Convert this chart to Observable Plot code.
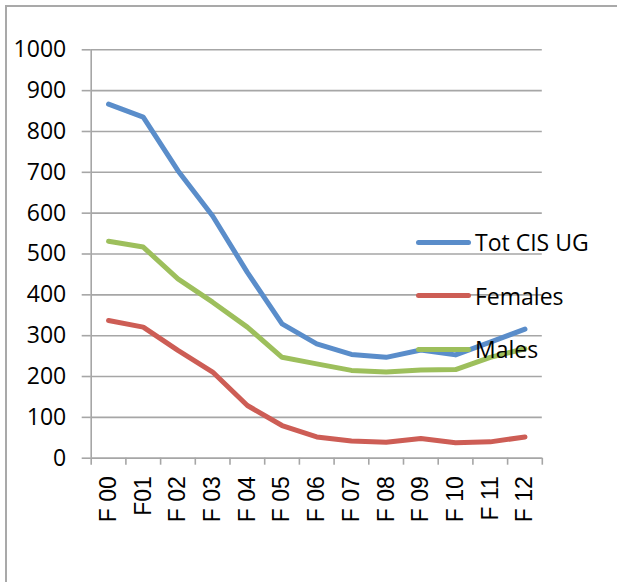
<!DOCTYPE html>
<html>
<head>
<meta charset="utf-8">
<script src="https://cdn.jsdelivr.net/npm/d3@7"></script>
<script src="https://cdn.jsdelivr.net/npm/@observablehq/plot@0.6"></script>
<style>
  html, body { margin: 0; padding: 0; background: #fff; }
  #wrap { position: relative; width: 617px; height: 582px; overflow: hidden; background: #fff; }
  #frame { position: absolute; left: 5px; top: 5px; right: -10px; bottom: -10px;
           border-left: 2px solid #a9a9a9; border-top: 2px solid #a9a9a9; }
  #chart { position: absolute; left: 0; top: 0; }
  #legend { position: absolute; left: 0; top: 0; }
  .entry { position: absolute; left: 416px; height: 30px; display: flex; align-items: center; }
  .swatch { width: 55px; height: 5px; border-radius: 3px; }
  .lab { margin-left: 4px; font-family: "Open Sans", sans-serif; font-size: 23px; line-height: 30px; color: #000; white-space: nowrap; }
</style>
</head>
<body>
<div id="wrap">
  <div id="frame"></div>
  <div id="chart"></div>
  <div id="legend"></div>
</div>
<script>
// ---- data ----
const categories = ["F 00", "F01", "F 02", "F 03", "F 04", "F 05", "F 06", "F 07", "F 08", "F 09", "F 10", "F 11", "F 12"];
const totCisUg = [867, 835, 704, 593, 455, 329, 280, 254, 247, 265, 253, 284, 316];
const females  = [337, 321, 264, 211, 129, 80, 52, 42, 39, 48, 38, 40, 52];
const males    = [531, 517, 439, 382, 321, 247, 231, 215, 211, 216, 217, 247, 268];
const seriesNames = ["Tot CIS UG", "Females", "Males"];
const seriesColors = ["#5a8dca", "#cd5d55", "#9dbf5c"];
const yTicks = [0, 100, 200, 300, 400, 500, 600, 700, 800, 900, 1000];

const seriesValues = [totCisUg, females, males];
const rows = seriesValues.flatMap((vals, s) =>
  vals.map((v, i) => ({ pos: i + 0.5, value: v, series: seriesNames[s] })));

const gridColor = "#a6a6a6";
const boundaries = d3.range(0, categories.length + 1);
const centers = categories.map((c, i) => i + 0.5);

const chart = Plot.plot({
  width: 617,
  height: 582,
  marginTop: 49.3,
  marginBottom: 124.3,
  marginLeft: 90.7,
  marginRight: 75.2,
  style: { background: "transparent", overflow: "visible" },
  x: { type: "linear", domain: [0, categories.length], axis: null, label: null },
  y: { domain: [0, 1000], axis: null, label: null },
  color: { domain: seriesNames, range: seriesColors },
  marks: [
    Plot.gridY(yTicks, { stroke: gridColor, strokeOpacity: 1, strokeWidth: 1.6 }),
    Plot.axisY(yTicks, {
      tickSize: 9, tickPadding: 16, stroke: gridColor, strokeOpacity: 1, strokeWidth: 1.6,
      tickFormat: d => String(d),
      fill: "#000", fontSize: 23, fontFamily: "Open Sans, sans-serif", label: null
    }),
    Plot.axisX(boundaries, {
      tickSize: 7, stroke: gridColor, strokeOpacity: 1, strokeWidth: 1.6,
      tickFormat: () => "", label: null
    }),
    Plot.axisX(centers, {
      tickSize: 0, tickPadding: 18, tickRotate: -90, textAnchor: "end",
      tickFormat: d => categories[Math.floor(d)],
      fill: "#000", fontSize: 23, fontFamily: "Liberation Sans, Arial, sans-serif", label: null
    }),
    Plot.ruleX([0], { stroke: gridColor, strokeWidth: 1.6 }),
    Plot.ruleY([0], { stroke: gridColor, strokeWidth: 1.6 }),
    Plot.line(rows, {
      x: "pos", y: "value", z: "series", stroke: "series",
      strokeWidth: 5, strokeLinejoin: "round", strokeLinecap: "round"
    })
  ]
});
document.getElementById("chart").appendChild(chart);

// ---- legend (drawn over the plot, as in the original) ----
const legendTops = [227, 280.5, 334];
const legend = document.getElementById("legend");
seriesNames.forEach((name, i) => {
  const e = document.createElement("div");
  e.className = "entry";
  e.style.top = legendTops[i] + "px";
  const sw = document.createElement("div");
  sw.className = "swatch";
  sw.style.background = seriesColors[i];
  const t = document.createElement("span");
  t.className = "lab";
  t.textContent = name;
  e.appendChild(sw);
  e.appendChild(t);
  legend.appendChild(e);
});
</script>
</body>
</html>
